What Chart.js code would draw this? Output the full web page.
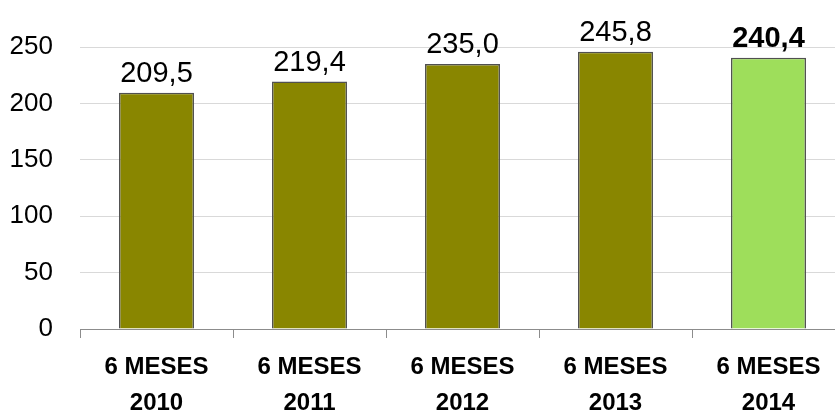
<!DOCTYPE html>
<html lang="es">
<head>
    <meta charset="UTF-8">
    <title>6 meses</title>
    <script src="https://cdn.jsdelivr.net/npm/chart.js@4/dist/chart.umd.min.js"></script>
    <style>
        body { margin: 0; overflow: hidden; background: #fff; }
        #wrap { width: 845px; height: 412px; }
    </style>
</head>
<body>
    <div id="wrap"><canvas id="chart" width="845" height="412"></canvas></div>

    <script>
        // data
        var periods = ["6 MESES", "6 MESES", "6 MESES", "6 MESES", "6 MESES"]
        var years = ["2010", "2011", "2012", "2013", "2014"]
        var values = [209.5, 219.4, 235.0, 245.8, 240.4]
        var yTicks = [0, 50, 100, 150, 200, 250]

        var labels = periods.map(function(p, i) { return [p, years[i]] })
        var last = values.length - 1
        var font = "'Liberation Sans', Arial, sans-serif"

        // value labels above the bars (last one bold)
        var valueLabels = {
            id: 'valueLabels',
            afterDatasetsDraw: function(chart) {
                var ctx = chart.ctx
                var meta = chart.getDatasetMeta(0)
                ctx.save()
                ctx.fillStyle = '#000'
                ctx.textAlign = 'center'
                ctx.textBaseline = 'alphabetic'
                meta.data.forEach(function(bar, i) {
                    ctx.font = (i === last ? 'bold ' : '') + '29px ' + font
                    ctx.fillText(values[i].toFixed(1).replace('.', ','), bar.x, bar.y - 11)
                })
                ctx.restore()
            }
        }

        new Chart(document.getElementById('chart'), {
            type: 'bar',
            data: {
                labels: labels,
                datasets: [{
                    data: values,
                    backgroundColor: values.map(function(v, i) { return i === last ? '#9ede5b' : '#898600' }),
                    borderColor: '#505050',
                    borderWidth: 1.5,
                    barPercentage: 0.49,
                    categoryPercentage: 1
                }]
            },
            options: {
                responsive: false,
                animation: false,
                layout: { padding: { top: 47, left: 0, right: 0, bottom: 0 } },
                plugins: { legend: { display: false }, tooltip: { enabled: false } },
                scales: {
                    x: {
                        grid: { offset: true, drawOnChartArea: false, drawTicks: true, tickLength: 9, color: '#8c8c8c' },
                        border: { color: '#8c8c8c', width: 1 },
                        ticks: { color: '#000', padding: 11, maxRotation: 0, font: { family: font, size: 24, weight: 'bold', lineHeight: 1.5 } },
                        afterFit: function(s) { s.height = 83 }
                    },
                    y: {
                        min: yTicks[0],
                        max: yTicks[yTicks.length - 1],
                        afterBuildTicks: function(s) { s.ticks = yTicks.map(function(v) { return { value: v } }) },
                        grid: { color: '#d9d9d9', drawTicks: false },
                        border: { display: false },
                        ticks: { color: '#000', padding: 27, font: { family: font, size: 26 } },
                        afterFit: function(s) { s.width = 80 }
                    }
                }
            },
            plugins: [valueLabels]
        });
    </script>
</body>
</html>
